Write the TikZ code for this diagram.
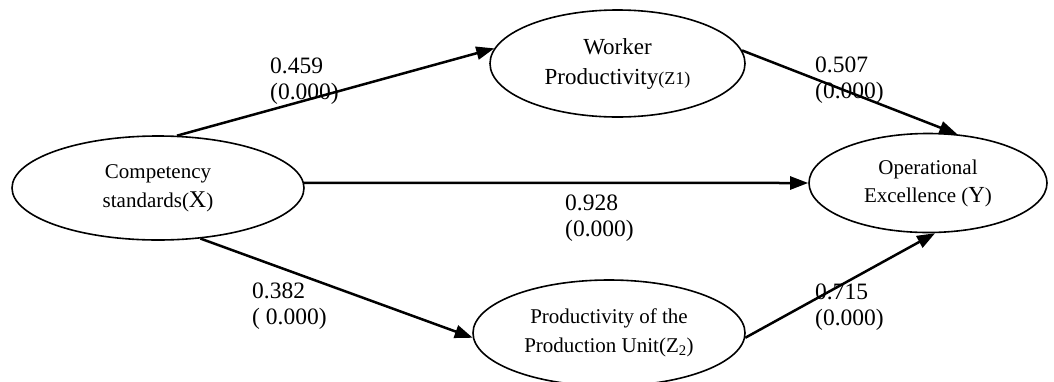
\documentclass[tikz,border=0pt]{standalone}
\usepackage{fontspec}
\setmainfont{Liberation Serif}
\usetikzlibrary{shapes.geometric,arrows.meta}
\begin{document}
\begin{tikzpicture}[x=1pt,y=-1pt,
  latent/.style={ellipse,draw,line width=1.6pt,inner sep=0pt,align=center,font=\fontsize{21}{29}\selectfont},
  pathline/.style={line width=2.5pt,-{Triangle[length=18pt,width=13pt]}},
  coef/.style={inner sep=0pt,align=left,anchor=west,font=\fontsize{23.5}{26}\selectfont}]
\useasboundingbox (0,0) rectangle (1054,381);
\node[latent,minimum width=292pt,minimum height=104pt] (X) at (158,188)
  {Competency\\standards({\fontsize{24}{29}\selectfont X})};
\node[latent,minimum width=255pt,minimum height=107pt,font=\fontsize{23}{30}\selectfont] (Z1) at (617.5,63.5)
  {Worker\\Productivity{\fontsize{18}{30}\selectfont(Z1)}};
\node[latent,minimum width=238pt,minimum height=99pt,font=\fontsize{21}{28}\selectfont] (Y) at (928,183)
  {Operational\\Excellence ({\fontsize{23}{28}\selectfont Y})};
\node[latent,minimum width=272pt,minimum height=106pt] (Z2) at (609,333)
  {Productivity of the\\Production Unit(Z\textsubscript{2})};
\draw[pathline] (X.70) -- (Z1.173.5);
\draw[pathline] (Z1.6.5) -- (Y.59);
\draw[pathline] (X.2) -- (Y.180);
\draw[pathline] (X.-50) -- (Z2.182);
\draw[pathline] (Z2.-2) -- (Y.-82);
\node[coef] (c1) at (270,81) {0.459\\(0.000)};
\node[coef] (c2) at (815,80) {0.507\\(0.000)};
\node[coef] (c3) at (565,218) {0.928\\(0.000)};
\node[coef] (c4) at (252,306) {0.382\\( 0.000)};
\node[coef] (c5) at (815,307) {0.715\\(0.000)};
\end{tikzpicture}
\end{document}
